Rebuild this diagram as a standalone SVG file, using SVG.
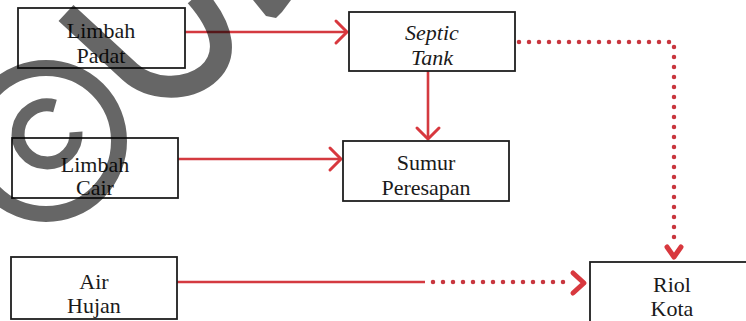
<svg xmlns="http://www.w3.org/2000/svg" width="746" height="321" viewBox="0 0 746 321">
<defs>
<style>
.box{fill:#fff;stroke:#1e1e1e;stroke-width:1.8}
text{font-family:'Liberation Serif','Times New Roman',serif;font-size:22px;fill:#1a1a1a;text-anchor:middle}
.ti{font-style:italic}
.ln{fill:none;stroke:#d43a40;stroke-width:2.6}
.dot{fill:none;stroke:#c8363e;stroke-width:4.5;stroke-linecap:round;stroke-dasharray:0 10}
.hd{fill:none;stroke:#d8383e;stroke-width:3;stroke-linecap:round;stroke-linejoin:round}
.hdb{fill:none;stroke:#d8383e;stroke-width:5;stroke-linecap:round;stroke-linejoin:round}
.wm{fill:none;stroke:#000;stroke-opacity:0.6}
</style>
</defs>
<rect width="746" height="321" fill="#fff"/>
<g id="connectors">
<path class="ln" d="M185 32 H346"/>
<path class="hd" d="M336 21 L347 32 L336 43"/>
<path class="ln" d="M428 71 V139"/>
<path class="hd" d="M417 128 L428 139 L439 128"/>
<path class="ln" d="M178 159 H340"/>
<path class="hd" d="M330 148 L341 159 L330 170"/>
<path class="dot" d="M519 42 H674 V242"/>
<path class="hdb" d="M667 247 L674 257 L681 247"/>
<path class="ln" d="M177 282 H425"/>
<path class="dot" d="M433 282 H566"/>
<path class="hdb" d="M573 273 L584 283 L573 293"/>
</g>
<g id="limbah-padat">
<rect class="box" x="18" y="8" width="167" height="60"/>
<text x="101" y="38">Limbah</text>
<text x="101" y="63">Padat</text>
</g>
<g id="septic-tank">
<rect class="box" x="349" y="12" width="166" height="59"/>
<text class="ti" x="432" y="40">Septic</text>
<text class="ti" x="432" y="65">Tank</text>
</g>
<g id="limbah-cair">
<rect class="box" x="12" y="138" width="166" height="60"/>
<text x="95" y="172" font-size="20">Limbah</text>
<text x="95" y="195" font-size="20">Cair</text>
</g>
<g id="sumur-peresapan">
<rect class="box" x="343" y="141" width="166" height="60"/>
<text x="426" y="170">Sumur</text>
<text x="426" y="195">Peresapan</text>
</g>
<g id="air-hujan">
<rect class="box" x="11" y="257" width="166" height="62"/>
<text x="94" y="289">Air</text>
<text x="94" y="313">Hujan</text>
</g>
<g id="riol-kota">
<rect class="box" x="590" y="262" width="170" height="70"/>
<text x="672" y="292">Riol</text>
<text x="672" y="316">Kota</text>
</g>
<g id="watermark">
<circle class="wm" cx="46" cy="141" r="73" stroke-width="16"/>
<path class="wm" stroke-width="13" d="M55 106 A29 29 0 1 0 76 132"/>
<path class="wm" stroke-width="22" d="M66 13 L130 72 C150 90 185 92 207 75 C228 58 226 30 196 -4"/>
<polygon points="253,0 291,0 282,12 276,18 266,16" fill="#000" fill-opacity="0.6"/>
</g>
</svg>
